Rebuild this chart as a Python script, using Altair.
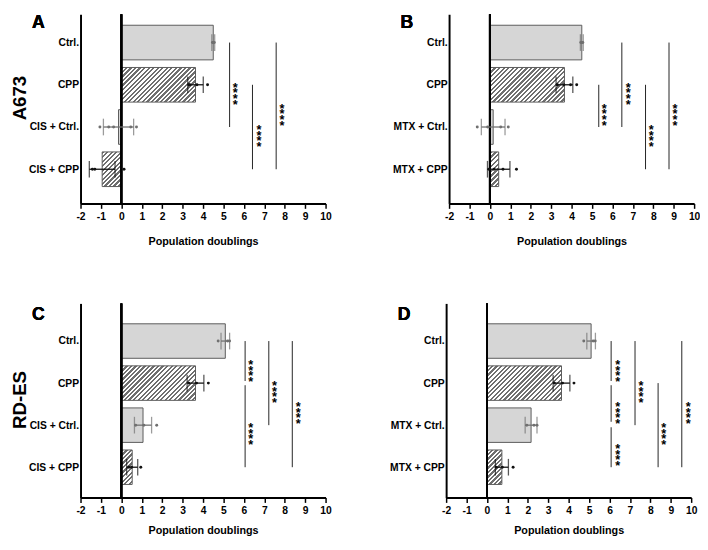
import json
import altair as alt
import pandas as pd

FONT = "Liberation Sans"
GREY_FILL = "#d6d6d6"
BAR_EDGE = "#5a5a5a"
HATCH = "#6f6f6f"
ERR_PLAIN = "#707070"
ERR_HATCH = "#111111"

x_ticks = list(range(-2, 11))
x_title = "Population doublings"

labels_a = ["Ctrl.", "CPP", "CIS + Ctrl.", "CIS + CPP"]
labels_b = ["Ctrl.", "CPP", "MTX + Ctrl.", "MTX  + CPP"]
labels_c = ["Ctrl.", "CPP", "CIS + Ctrl.", "CIS + CPP"]
labels_d = ["Ctrl.", "CPP", "MTX + Ctrl.", "MTX + CPP"]
hatched = [False, True, False, True]

# A673 + cisplatin
mean_a = [4.50, 3.63, -0.14, -0.94]
sd_a = [0.07, 0.38, 0.74, 0.63]
pts_a = [[4.46, 4.50, 4.55], [3.30, 3.35, 3.70, 4.22],
         [-1.05, -0.62, -0.38, 0.46, 0.74], [-1.42, -1.30, 0.13]]
sig_x_a = [5.30, 6.42, 7.58]
sig_from_a = [0, 1, 0]
sig_to_a = [2, 3, 3]
star_x_a = [5.58, 6.74, 7.86]
star_row_a = [1, 2, 1.5]

# A673 + methotrexate
mean_b = [4.50, 3.65, 0.16, 0.43]
sd_b = [0.07, 0.41, 0.58, 0.55]
pts_b = [[4.45, 4.50, 4.55], [3.30, 3.62, 3.95, 4.25],
         [-0.62, -0.11, 0.53, 0.90], [-0.05, 0.20, 0.64, 1.30]]
sig_x_b = [5.33, 6.46, 7.62, 8.77]
sig_from_b = [1, 0, 1, 0]
sig_to_b = [2, 2, 3, 3]
star_x_b = [5.60, 6.77, 7.90, 9.06]
star_row_b = [1.5, 1, 2, 1.5]

# RD-ES + cisplatin
mean_c = [5.09, 3.63, 1.06, 0.53]
sd_c = [0.21, 0.41, 0.42, 0.27]
pts_c = [[4.74, 5.20, 5.30], [3.30, 3.68, 4.26], [0.70, 1.10, 1.73], [0.37, 0.50, 0.95]]
sig_x_c = [6.06, 6.06, 7.22, 8.37]
sig_from_c = [0, 1.05, 0, 0]
sig_to_c = [0.95, 3, 2, 3]
star_x_c = [6.34, 6.34, 7.50, 8.66]
star_row_c = [0.5, 2, 1, 1.5]

# RD-ES + methotrexate
mean_d = [5.10, 3.65, 2.16, 0.73]
sd_d = [0.21, 0.41, 0.29, 0.32]
pts_d = [[4.74, 5.20, 5.30], [3.30, 3.70, 4.26], [1.95, 2.30, 2.45], [0.45, 0.75, 1.28]]
sig_x_d = [6.08, 6.08, 6.08, 7.25, 8.38, 9.54]
sig_from_d = [0, 1.05, 2.05, 0, 1, 0]
sig_to_d = [0.95, 1.92, 3, 2, 3, 3]
star_x_d = [6.40, 6.40, 6.40, 7.54, 8.66, 9.86]
star_row_d = [0.5, 1.5, 2.5, 1, 2, 1.5]

W = 250
HALF = 0.41  # half bar thickness, in rows


def hatch_fill(w, h, period=3.3, dark=0.5):
    # diagonal stripes as a hard-stop gradient over the bar's bounding box
    n = max(1, round((w + h) / (2 ** 0.5 * period)))
    stops = []
    for k in range(n):
        a, b, c = k / n, (k + dark) / n, (k + 1) / n
        stops += [{"offset": a, "color": HATCH}, {"offset": b, "color": HATCH},
                  {"offset": b, "color": "white"}, {"offset": c, "color": "white"}]
    s = (w + h) / (w * w + h * h)
    return {"gradient": "linear", "x1": 0, "y1": 0, "x2": w * s, "y2": h * s, "stops": stops}


def panel(letter, row_title, title_y, labels, mean, sd, pts,
          sig_x, sig_from, sig_to, star_x, star_row, height, ydom, title_pad, letter_y):
    step = height / (ydom[1] - ydom[0])
    kinds = ["hatched" if h else "plain" for h in hatched]
    bars = pd.DataFrame({"row": range(4), "mean": mean, "sd": sd, "kind": kinds})
    bars["lo"] = bars["mean"] - bars["sd"]
    bars["hi"] = bars["mean"] + bars["sd"]
    points = pd.DataFrame([{"row": i, "v": v, "kind": kinds[i]}
                           for i, vs in enumerate(pts) for v in vs])
    sig = pd.DataFrame({"x": sig_x, "r0": sig_from, "r1": sig_to})
    stars = pd.DataFrame({"x": star_x, "r": star_row})

    xscale = alt.Scale(domain=[-2, 10], nice=False, zero=False)
    yscale = alt.Scale(domain=ydom, reverse=True, nice=False, zero=False)
    xaxis = alt.Axis(values=x_ticks, grid=False, labelExpr="'' + datum.value",
                     labelFlush=False,
                     labelFontSize=10.5, labelFontWeight="bold", labelPadding=3,
                     labelColor="black", titleColor="black",
                     domainColor="black", domainWidth=2, tickColor="black",
                     tickWidth=1.5, tickSize=5, titleFontSize=11,
                     titleFontWeight="bold", titlePadding=title_pad)
    yopts = dict(values=[0, 1, 2, 3], grid=False, ticks=False,
                 labelExpr=json.dumps(labels) + "[datum.value]",
                 labelFontSize=10.5, labelFontWeight="bold", labelPadding=2,
                 labelColor="black", domainColor="black", domainWidth=2)
    if row_title:
        yaxis = alt.Axis(title=row_title, titleFontSize=19, titleFontWeight="bold",
                         titleColor="black", titleX=-62, titleY=title_y,
                         titleBaseline="middle", **yopts)
    else:
        yaxis = alt.Axis(title=None, **yopts)

    def X(f):
        return alt.X(f, type="quantitative", scale=xscale, axis=xaxis, title=x_title)

    def Y(f):
        return alt.Y(f, type="quantitative", scale=yscale, axis=yaxis)

    err_color = alt.Color("kind:N", legend=None,
                          scale=alt.Scale(domain=["plain", "hatched"],
                                          range=[ERR_PLAIN, ERR_HATCH]))

    base = alt.Chart(bars).transform_calculate(
        y0=f"datum.row - {HALF}", y1=f"datum.row + {HALF}", zero="0")

    layers = [base.transform_filter("datum.kind == 'plain'").mark_rect(
        fill=GREY_FILL, stroke=BAR_EDGE, strokeWidth=1).encode(
        x=X("mean"), x2="zero:Q", y=Y("y0:Q"), y2="y1:Q")]
    for i, h in enumerate(hatched):
        if h:
            w = abs(mean[i]) * W / 12
            layers.append(base.transform_filter(f"datum.row == {i}").mark_rect(
                fill=hatch_fill(w, 2 * HALF * step), stroke=BAR_EDGE, strokeWidth=1).encode(
                x=X("mean"), x2="zero:Q", y=Y("y0:Q"), y2="y1:Q"))

    layers += [
        alt.Chart(bars).mark_rule(color="black", strokeWidth=2).encode(
            x=alt.X(datum=0, scale=xscale, axis=xaxis, title=x_title),
            y=alt.Y(datum=ydom[0], scale=yscale, axis=yaxis), y2=alt.Y2(datum=ydom[1])),
        alt.Chart(bars).mark_rule(strokeWidth=1.3).encode(
            x=X("lo"), x2="hi:Q", y=Y("row"), color=err_color),
        alt.Chart(bars).transform_fold(["lo", "hi"], as_=["end", "val"]).mark_tick(
            orient="vertical", size=17, thickness=1.3).encode(
            x=X("val"), y=Y("row"), color=err_color),
        alt.Chart(points).mark_circle(size=9, opacity=1).encode(
            x=X("v"), y=Y("row"), color=err_color),
        alt.Chart(sig).mark_rule(color="#222222", strokeWidth=1).encode(
            x=X("x"), y=Y("r0"), y2="r1:Q"),
        # stars stacked one per line (reads like the rotated "****" of the figure)
        alt.Chart(stars).mark_text(text=["*", "*", "*", "*"], lineHeight=5.8,
                                   fontSize=13, fontWeight="bold", color="black",
                                   baseline="middle", align="center", dy=3).encode(
            x=X("x"), y=Y("r")),
        alt.Chart(bars).mark_text(text=letter, fontSize=18, fontWeight="bold",
                                  color="black", baseline="middle",
                                  align="center").encode(
            x=alt.value(-43), y=alt.value(letter_y)),
    ]
    return alt.layer(*layers).properties(width=W, height=height)


TOP_H, TOP_DOM = 193, [-0.67, 3.81]
BOT_H, BOT_DOM = 198, [-0.895, 3.72]

pa = panel("A", "A673", 85, labels_a, mean_a, sd_a, pts_a, sig_x_a, sig_from_a,
           sig_to_a, star_x_a, star_row_a, TOP_H, TOP_DOM, 14, 9)
pb = panel("B", None, 0, labels_b, mean_b, sd_b, pts_b, sig_x_b, sig_from_b,
           sig_to_b, star_x_b, star_row_b, TOP_H, TOP_DOM, 14, 9)
pc = panel("C", "RD-ES", 98, labels_c, mean_c, sd_c, pts_c, sig_x_c, sig_from_c,
           sig_to_c, star_x_c, star_row_c, BOT_H, BOT_DOM, 9, 12)
pd_ = panel("D", None, 0, labels_d, mean_d, sd_d, pts_d, sig_x_d, sig_from_d,
            sig_to_d, star_x_d, star_row_d, BOT_H, BOT_DOM, 9, 12)

chart = alt.vconcat(
    alt.hconcat(pa, pb, spacing=59),
    alt.hconcat(pc, pd_, spacing=59),
    spacing=57,
).properties(
    padding={"left": 3, "top": 0, "right": 0, "bottom": 0}
).configure(font=FONT).configure_view(stroke=None)

chart.save("out.html", embed_options={"renderer": "svg", "actions": False})
